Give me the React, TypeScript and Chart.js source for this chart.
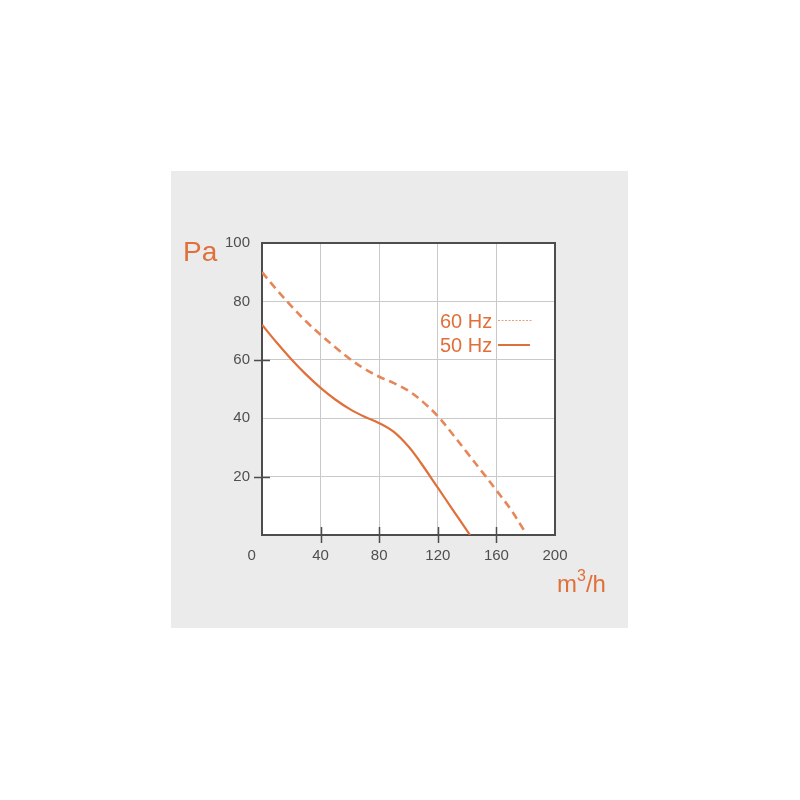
import React, { useEffect, useRef } from "react";
import { Chart, registerables } from "chart.js";

Chart.register(...registerables);

// Data
const flow60Hz = [0, 10, 20, 30, 40, 50, 60, 70, 80, 90, 100, 110, 120, 130, 140, 150, 160, 170, 179];
const pressure60Hz = [90, 84, 78.4, 73.2, 68.6, 64.3, 60.3, 56.9, 54.2, 52, 49.4, 45.5, 40.7, 34.6, 28.2, 21.8, 15.3, 8.6, 1.5];

const flow50Hz = [0, 10, 20, 30, 40, 50, 60, 70, 80, 90, 100, 108, 120, 130, 142];
const pressure50Hz = [72, 65.9, 60.2, 55, 50.4, 46.4, 43.1, 40.5, 38.3, 35.3, 30.3, 25, 16.2, 8.8, 0];

const xTickValues = [0, 40, 80, 120, 160, 200];
const yTickValues = [20, 40, 60, 80, 100];
const xMarkedTicks = [40, 80, 120, 160];
const yMarkedTicks = [20, 60];

const seriesLabels = ["60 Hz", "50 Hz"];
const yUnit = "Pa";
const xUnitBase = "m";
const xUnitSup = "3";
const xUnitTail = "/h";

const ORANGE = "#e0703a";
const ORANGE_DASH = "#e6875a";
const ORANGE_LIGHT = "#e9a07c";
const AXIS = "#4d4d4d";
const GRID = "#c9c9c9";
const TICK_TEXT = "#4f4f4f";
const FONT = "'Liberation Sans', Arial, Helvetica, sans-serif";

const decorPlugin = {
  id: "decor",
  beforeDraw(chart: any) {
    const { ctx } = chart;
    ctx.save();
    ctx.fillStyle = "#ffffff";
    ctx.fillRect(0, 0, chart.width, chart.height);
    ctx.fillStyle = "#ebebeb";
    ctx.fillRect(171, 171, 457, 457);
    const ca = chart.chartArea;
    ctx.fillStyle = "#ffffff";
    ctx.fillRect(ca.left, ca.top, ca.right - ca.left, ca.bottom - ca.top);
    ctx.restore();
  },
  beforeDatasetsDraw(chart: any) {
    const { ctx } = chart;
    const ca = chart.chartArea;
    const xs = chart.scales.x;
    const ys = chart.scales.y;
    ctx.save();
    ctx.strokeStyle = AXIS;
    ctx.lineWidth = 2;
    ctx.strokeRect(ca.left, ca.top, ca.right - ca.left, ca.bottom - ca.top);
    ctx.beginPath();
    xMarkedTicks.forEach((v) => {
      const px = Math.round(xs.getPixelForValue(v)) + 0.5;
      ctx.moveTo(px, ca.bottom - 8);
      ctx.lineTo(px, ca.bottom + 8);
    });
    yMarkedTicks.forEach((v) => {
      const py = Math.round(ys.getPixelForValue(v)) + 0.5;
      ctx.moveTo(ca.left - 8, py);
      ctx.lineTo(ca.left + 8, py);
    });
    ctx.lineWidth = 1.5;
    ctx.stroke();
    ctx.restore();
  },
  afterDraw(chart: any) {
    const { ctx } = chart;
    const ca = chart.chartArea;
    ctx.save();
    ctx.fillStyle = ORANGE;
    ctx.textBaseline = "alphabetic";
    ctx.textAlign = "left";
    // Y unit
    ctx.font = `28px ${FONT}`;
    ctx.fillText(yUnit, ca.left - 79, ca.top + 18);
    // X unit
    let x = ca.right + 2;
    const base = ca.bottom + 57;
    ctx.font = `24px ${FONT}`;
    ctx.fillText(xUnitBase, x, base);
    x += ctx.measureText(xUnitBase).width;
    ctx.font = `16px ${FONT}`;
    ctx.fillText(xUnitSup, x, base - 11);
    x += ctx.measureText(xUnitSup).width;
    ctx.font = `24px ${FONT}`;
    ctx.fillText(xUnitTail, x, base);

    // Legend
    ctx.font = `20px ${FONT}`;
    ctx.fillText(seriesLabels[0], ca.left + 178, ca.top + 85);
    ctx.fillText(seriesLabels[1], ca.left + 178, ca.top + 109);
    ctx.beginPath();
    ctx.strokeStyle = ORANGE_LIGHT;
    ctx.lineWidth = 1.2;
    ctx.setLineDash([2, 1.5]);
    ctx.moveTo(ca.left + 236, ca.top + 77.5);
    ctx.lineTo(ca.left + 270, ca.top + 77.5);
    ctx.stroke();
    ctx.beginPath();
    ctx.setLineDash([]);
    ctx.strokeStyle = ORANGE;
    ctx.lineWidth = 2;
    ctx.moveTo(ca.left + 236, ca.top + 102);
    ctx.lineTo(ca.left + 268, ca.top + 102);
    ctx.stroke();
    ctx.restore();
  },
};

export default function App() {
  const canvasRef = useRef<HTMLCanvasElement | null>(null);

  useEffect(() => {
    if (!canvasRef.current) return;
    const chart = new Chart(canvasRef.current, {
      type: "line",
      data: {
        datasets: [
          {
            label: seriesLabels[0],
            data: flow60Hz.map((f, i) => ({ x: f, y: pressure60Hz[i] })),
            borderColor: ORANGE_DASH,
            borderWidth: 2.6,
            borderDash: [8, 5],
            pointRadius: 0,
            tension: 0.35,
            fill: false,
          },
          {
            label: seriesLabels[1],
            data: flow50Hz.map((f, i) => ({ x: f, y: pressure50Hz[i] })),
            borderColor: ORANGE,
            borderWidth: 2.2,
            pointRadius: 0,
            tension: 0.35,
            fill: false,
          },
        ],
      },
      options: {
        animation: false,
        responsive: false,
        maintainAspectRatio: false,
        layout: { padding: { left: 212, top: 243, right: 245, bottom: 225 } },
        plugins: {
          legend: { display: false },
          tooltip: { enabled: false },
          title: { display: false },
        },
        scales: {
          x: {
            type: "linear",
            min: 0,
            max: 200,
            afterBuildTicks: (scale: any) => {
              scale.ticks = xTickValues.map((v) => ({ value: v }));
            },
            afterFit: (scale: any) => {
              scale.height = 40;
            },
            border: { display: false },
            grid: {
              drawTicks: false,
              color: (c: any) =>
                c.tick && (c.tick.value === 0 || c.tick.value === 200) ? "rgba(0,0,0,0)" : GRID,
              lineWidth: 1,
            },
            ticks: {
              padding: 12,
              color: TICK_TEXT,
              font: { family: FONT, size: 15 },
              maxRotation: 0,
              autoSkip: false,
              callback: (v: any) => (v === 0 ? "0     " : String(v)),
            },
          },
          y: {
            type: "linear",
            min: 0,
            max: 100,
            afterBuildTicks: (scale: any) => {
              scale.ticks = [0, ...yTickValues].map((v) => ({ value: v }));
            },
            afterFit: (scale: any) => {
              scale.width = 50;
            },
            border: { display: false },
            grid: {
              drawTicks: false,
              color: (c: any) =>
                c.tick && (c.tick.value === 0 || c.tick.value === 100) ? "rgba(0,0,0,0)" : GRID,
              lineWidth: 1,
            },
            ticks: {
              padding: 12,
              color: TICK_TEXT,
              font: { family: FONT, size: 15 },
              autoSkip: false,
              callback: (v: any) => (v === 0 ? "" : String(v)),
            },
          },
        },
      },
      plugins: [decorPlugin],
    });
    return () => chart.destroy();
  }, []);

  return (
    <div style={{ position: "absolute", left: 0, top: 0, width: 800, height: 800, background: "#fff" }}>
      <canvas ref={canvasRef} width={800} height={800} style={{ display: "block", width: 800, height: 800 }} />
    </div>
  );
}
